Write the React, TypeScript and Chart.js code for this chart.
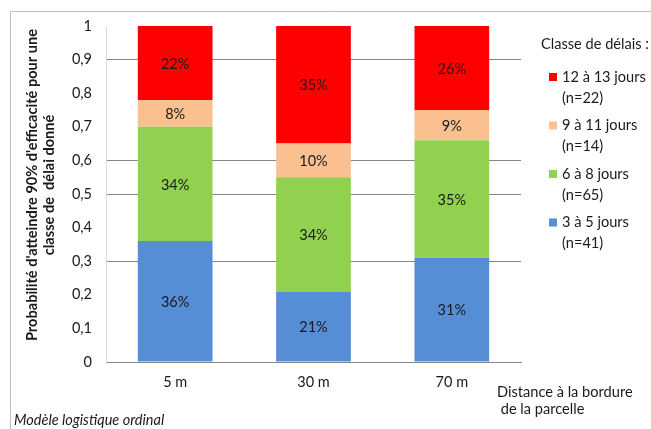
import React, { useEffect, useRef } from "react";
import { Chart, registerables } from "chart.js";

Chart.register(...registerables);

// Distance from the field edge
const categories = ["5 m", "30 m", "70 m"];

// Delay classes, bottom to top in each stack
const delayClasses = ["3 à 5 jours", "6 à 8 jours", "9 à 11 jours", "12 à 13 jours"];
const classCounts = [41, 65, 14, 22];

// Probability of reaching 90 % efficacy for each delay class
const days3to5 = [0.36, 0.21, 0.31];
const days6to8 = [0.34, 0.34, 0.35];
const days9to11 = [0.08, 0.1, 0.09];
const days12to13 = [0.22, 0.35, 0.26];

const yTicks = [0, 0.1, 0.2, 0.3, 0.4, 0.5, 0.6, 0.7, 0.8, 0.9, 1];

const seriesValues = [days3to5, days6to8, days9to11, days12to13];
const seriesColors = ["#558ED5", "#92D050", "#FAC090", "#FF0000"];
const shownGridLevels = [0, 0.3, 0.5, 0.6, 0.9];

const FONT = "Lato, 'Open Sans', sans-serif";
const TEXT = "#1a1a1a";

const fmtTick = (v: number) => String(Number(v.toFixed(1))).replace(".", ",");

const decorations = {
  id: "decorations",
  beforeDraw(chart: any) {
    const ctx = chart.ctx;
    ctx.save();
    ctx.fillStyle = "#ffffff";
    ctx.fillRect(0, 0, chart.width, chart.height);
    ctx.strokeStyle = "#bfbfbf";
    ctx.lineWidth = 1;
    ctx.beginPath();
    ctx.moveTo(10.5, chart.height);
    ctx.lineTo(10.5, 11.5);
    ctx.lineTo(chart.width, 11.5);
    ctx.stroke();
    ctx.restore();
  },
  afterDatasetsDraw(chart: any) {
    const ctx = chart.ctx;
    ctx.save();
    // value labels in the middle of each segment
    ctx.font = `14.5px ${FONT}`;
    ctx.fillStyle = TEXT;
    ctx.textAlign = "center";
    ctx.textBaseline = "middle";
    chart.data.datasets.forEach((ds: any, di: number) => {
      const meta = chart.getDatasetMeta(di);
      meta.data.forEach((bar: any, i: number) => {
        const v = ds.data[i] as number;
        const top = Math.max(bar.y, chart.chartArea.top);
        ctx.fillText(`${Math.round(v * 100)}%`, bar.x, (top + bar.base) / 2 + 1);
      });
    });
    ctx.restore();
  },
  afterDraw(chart: any) {
    const ctx = chart.ctx;
    const area = chart.chartArea;
    ctx.save();
    ctx.fillStyle = TEXT;
    ctx.textBaseline = "middle";

    // y axis title
    ctx.save();
    ctx.translate(40, (area.top + area.bottom) / 2 - 9);
    ctx.rotate(-Math.PI / 2);
    ctx.textAlign = "center";
    ctx.font = `bold 14.6px ${FONT}`;
    ctx.fillText("Probabilité d'atteindre 90% d'efficacité pour une", 0, -8);
    ctx.fillText("classe de  délai donné", 0, 9);
    ctx.restore();

    // x axis title
    ctx.textAlign = "left";
    ctx.font = `14.6px ${FONT}`;
    ctx.fillText("Distance à la bordure", 497, 392);
    ctx.fillText(" de la parcelle", 497, 409);

    // model note
    ctx.font = `italic 14.5px ${FONT}`;
    ctx.fillText("Modèle logistique ordinal", 14, 420);

    // legend, top class first
    ctx.font = `14.6px ${FONT}`;
    ctx.fillText("Classe de délais :", 541, 44);
    const n = delayClasses.length;
    for (let k = 0; k < n; k++) {
      const idx = n - 1 - k;
      const y = 77 + k * 48.5;
      ctx.fillStyle = seriesColors[idx];
      ctx.fillRect(549, y - 4, 8, 8);
      ctx.fillStyle = TEXT;
      ctx.fillText(delayClasses[idx], 562, y);
      ctx.fillText(`(n=${classCounts[idx]})`, 562, y + 21);
    }
    ctx.restore();
  },
};

export default function App() {
  const canvasRef = useRef<HTMLCanvasElement | null>(null);

  useEffect(() => {
    if (!canvasRef.current) return;
    const chart = new Chart(canvasRef.current, {
      type: "bar",
      data: {
        labels: categories,
        datasets: seriesValues.map((vals, i) => ({
          label: delayClasses[i],
          data: vals,
          backgroundColor: seriesColors[i],
          borderWidth: 0,
          categoryPercentage: 1,
          barPercentage: 0.54,
        })),
      },
      options: {
        responsive: false,
        animation: false,
        devicePixelRatio: 1,
        layout: { padding: { left: 0, right: 130, top: 26, bottom: 0 } },
        plugins: {
          legend: { display: false },
          tooltip: { enabled: false },
          title: { display: false },
        },
        scales: {
          x: {
            stacked: true,
            grid: { display: false, drawTicks: false },
            border: { display: true, color: "#868686", width: 1 },
            ticks: {
              color: TEXT,
              font: { family: FONT, size: 14.5 },
              padding: 12,
            },
            afterFit(scale: any) {
              scale.height = 67;
            },
          },
          y: {
            stacked: true,
            min: 0,
            max: 1,
            afterBuildTicks(scale: any) {
              scale.ticks = yTicks.map((v) => ({ value: v }));
            },
            grid: {
              drawTicks: false,
              color: (c: any) =>
                shownGridLevels.some((g) => Math.abs(g - (c.tick?.value ?? -1)) < 1e-6)
                  ? "#868686"
                  : "rgba(0,0,0,0)",
            },
            border: { display: true, color: "#d9d9d9", width: 1 },
            ticks: {
              color: TEXT,
              font: { family: FONT, size: 14.5 },
              padding: 14,
              callback: (v: any) => fmtTick(Number(v)),
            },
            afterFit(scale: any) {
              scale.width = 106;
            },
          },
        },
      },
      plugins: [decorations],
    });
    return () => chart.destroy();
  }, []);

  return (
    <div style={{ position: "absolute", left: 0, top: 0, width: 651, height: 429 }}>
      <canvas ref={canvasRef} width={651} height={429} style={{ width: 651, height: 429, display: "block" }} />
    </div>
  );
}
